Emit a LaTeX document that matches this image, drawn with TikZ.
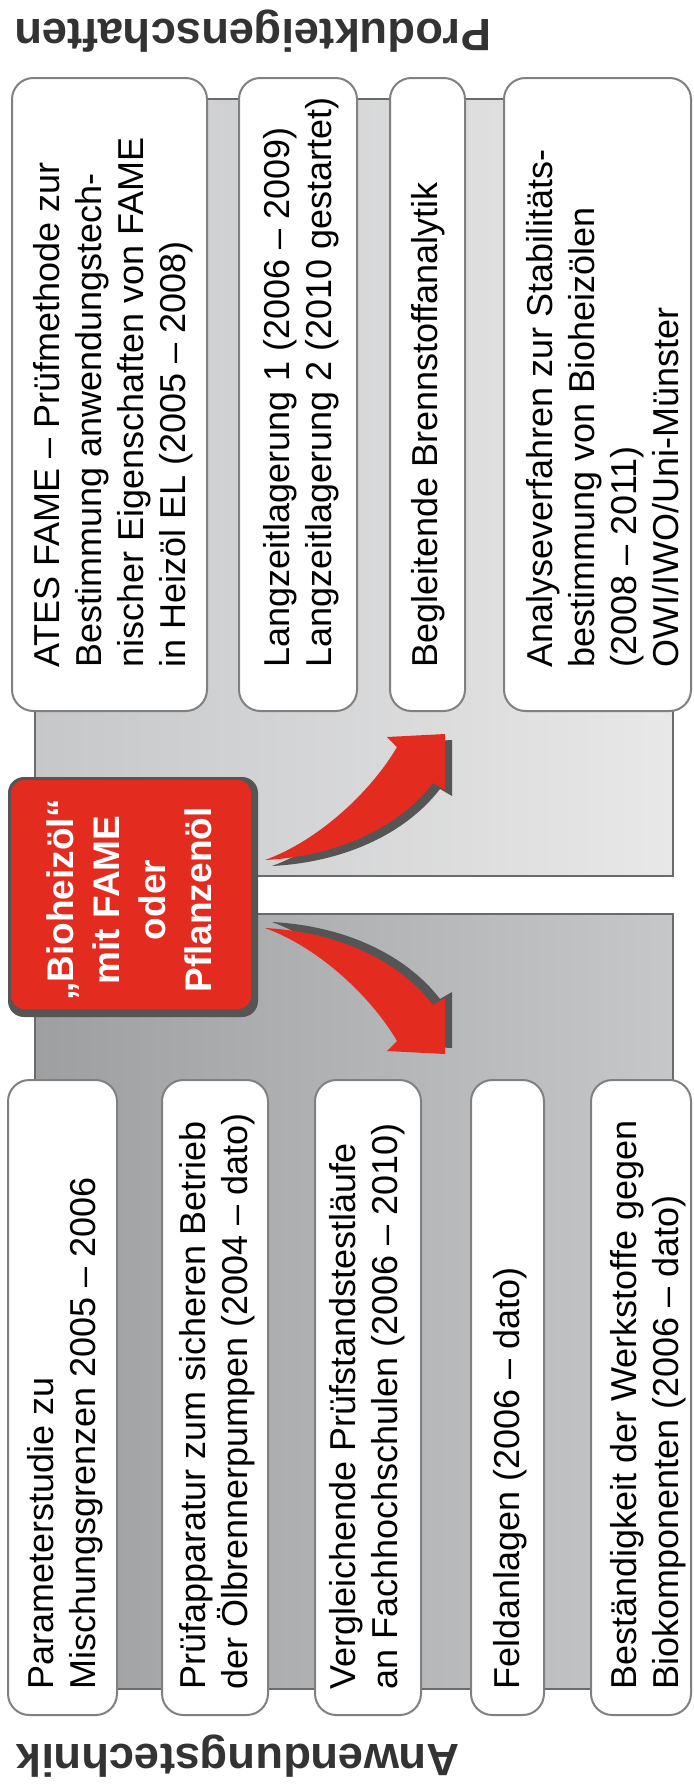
\documentclass[tikz,border=0pt]{standalone}
\usepackage{fontspec}
\setmainfont{Liberation Sans}
\definecolor{redc}{RGB}{228,43,32}
\definecolor{redrim}{RGB}{85,85,85}
\definecolor{arrowshade}{RGB}{85,85,85}
\definecolor{cardline}{RGB}{128,128,128}
\definecolor{panelline}{RGB}{106,106,106}
\definecolor{upL}{RGB}{198,199,201}
\definecolor{upR}{RGB}{232,232,232}
\definecolor{loL}{RGB}{158,159,161}
\definecolor{loR}{RGB}{198,199,201}
\definecolor{headc}{RGB}{51,51,51}
\begin{document}
\begin{tikzpicture}[x=0.75pt,y=-0.75pt,
  card/.style={draw=cardline, line width=1.5pt, fill=white, rounded corners=16pt},
  panel/.style={draw=panelline, line width=1.6pt},
  cardtext/.style={rotate=90, anchor=north west, inner sep=0pt, align=left,
    text=black, font=\fontsize{27}{31.5}\selectfont},
  heading/.style={rotate=180, anchor=base, inner sep=0pt, text=headc,
    font=\fontsize{34}{40}\selectfont\bfseries},
  biotext/.style={rotate=90, inner sep=0pt, align=center, text=white,
    font=\fontsize{27.75}{34.5}\selectfont\bfseries}]
\useasboundingbox (0,0) rectangle (693,1785);
\fill[white] (0,0) rectangle (693,1785);

% group panels
\path[panel, left color=upL, right color=upR] (35,99) rectangle (673,876);
\path[panel, left color=loL, right color=loR] (35,914) rectangle (673,1689);

% headings
\node[heading] (hprod) at (253,19) {Produkteigenschaften};
\node[heading] (hanw) at (238,1744) {Anwendungstechnik};

% product property cards
\draw[card] (12,78) rectangle (207,711);
\draw[card] (239,78) rectangle (357,711);
\draw[card] (390,78) rectangle (465,711);
\draw[card] (504,78) rectangle (691,711);
\node[cardtext] (ates) at (33,668) {ATES FAME – Prüfmethode zur\\Bestimmung anwendungstech-\\nischer Eigenschaften von FAME\\in Heizöl EL (2005 – 2008)};
\node[cardtext] (lager) at (263,668) {Langzeitlagerung 1 (2006 – 2009)\\Langzeitlagerung 2 (2010 gestartet)};
\node[cardtext] (analytik) at (411,668) {Begleitende Brennstoffanalytik};
\node[cardtext] (stabil) at (526,668) {Analyseverfahren zur Stabilitäts-\\bestimmung von Bioheizölen\\(2008 – 2011)\\OWI/IWO/Uni-Münster};

% application cards
\draw[card] (8,1080) rectangle (117,1715);
\draw[card] (162,1080) rectangle (268,1715);
\draw[card] (315,1080) rectangle (421,1715);
\draw[card] (471,1080) rectangle (544,1715);
\draw[card] (591,1080) rectangle (691,1715);
\node[cardtext] (param) at (27,1690) {Parameterstudie zu\\Mischungsgrenzen 2005 – 2006};
\node[cardtext] (pumpe) at (179,1690) {Prüfapparatur zum sicheren Betrieb\\der Ölbrennerpumpen (2004 – dato)};
\node[cardtext] (pruefst) at (329,1690) {Vergleichende Prüfstandstestläufe\\an Fachhochschulen (2006 – 2010)};
\node[cardtext] (feld) at (493,1690) {Feldanlagen (2006 – dato)};
\node[cardtext] (werk) at (610,1690) {Beständigkeit der Werkstoffe gegen\\Biokomponenten (2006 – dato)};

% central fuel box
\fill[redrim, rounded corners=12pt] (8,777) rectangle (258,1017);
\fill[redc, rounded corners=10pt] (11,780) rectangle (251,1009);
\node[biotext] (bio) at (129,900) {„Bioheizöl“\\mit FAME\\oder\\Pflanzenöl};

% bent arrow up towards the product properties
\fill[arrowshade, shift={(7,6)}]
  (265,860) .. controls (340,856) and (400,826) .. (433,783)
  -- (445,790) -- (445,734) -- (387,737) -- (397,747)
  .. controls (372,790) and (320,840) .. (265,860) -- cycle;
\fill[redc]
  (265,860) .. controls (340,856) and (400,826) .. (433,783)
  -- (445,790) -- (445,734) -- (387,737) -- (397,747)
  .. controls (372,790) and (320,840) .. (265,860) -- cycle;

% bent arrow down towards the applications
\fill[arrowshade, shift={(7,-6)}]
  (265,928) .. controls (340,932) and (400,962) .. (433,1005)
  -- (445,998) -- (445,1054) -- (387,1051) -- (397,1041)
  .. controls (372,998) and (320,948) .. (265,928) -- cycle;
\fill[redc]
  (265,928) .. controls (340,932) and (400,962) .. (433,1005)
  -- (445,998) -- (445,1054) -- (387,1051) -- (397,1041)
  .. controls (372,998) and (320,948) .. (265,928) -- cycle;
\end{tikzpicture}
\end{document}
